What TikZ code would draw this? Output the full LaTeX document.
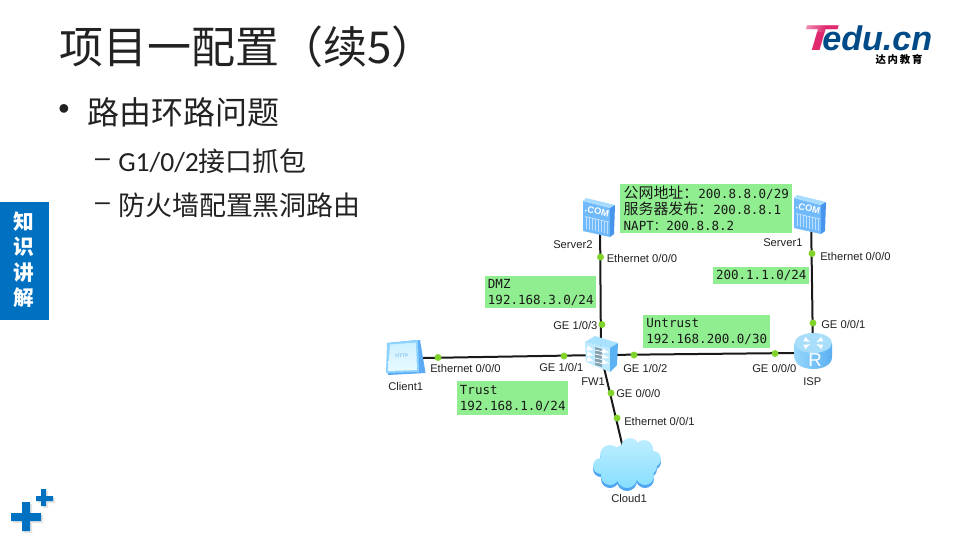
\documentclass[tikz,border=0pt]{standalone}
\usepackage{fontspec}
\usetikzlibrary{fadings}
\setmainfont{Carlito}
\newfontfamily\cjk{Noto Sans CJK SC}
\newfontfamily\lab{Liberation Sans}
\newfontfamily\mono{DejaVu Sans Mono}
\definecolor{deckblue}{HTML}{0070C0}
\definecolor{notegreen}{HTML}{90EE90}
\definecolor{dotgreen}{HTML}{7FD32B}
\definecolor{logoblue}{HTML}{004B87}
\definecolor{logopink}{HTML}{E0286E}
\definecolor{inktext}{HTML}{222222}
\tikzset{
  px/.style={x=0.75pt,y=-0.75pt},
  hub/.style={inner sep=0pt,minimum size=4pt},
  dev/.style={font=\lab\fontsize{8.4}{10}\selectfont,anchor=west,inner sep=0pt,text=inktext},
  port/.style={circle,fill=dotgreen,inner sep=0pt,minimum size=5.2pt},
  wire/.style={line width=1.5pt,black!90},
  note/.style={anchor=north west,fill=notegreen,inner sep=0pt,inner xsep=2pt,align=left,
    font=\mono\fontsize{9.4}{12}\selectfont,text=black!90},
  title/.style={anchor=west,inner sep=0pt,text=inktext,font=\cjk\fontsize{33}{38}\selectfont},
  lvlone/.style={anchor=west,inner sep=0pt,text=inktext,font=\cjk\fontsize{24}{28}\selectfont},
  lvltwo/.style={anchor=west,inner sep=0pt,text=inktext,font=\fontsize{20.7}{24}\selectfont},
  side/.style={inner sep=0pt,text=white,font=\cjk\bfseries\fontsize{15.5}{18}\selectfont},
}
\newcommand{\serverart}[2]{%
\begin{scope}[shift={(#1,#2)}]
  \fill[color={rgb,255:red,112;green,186;blue,252}] (-17,-16) -- (10,-9) -- (10,20) -- (-17,14) -- cycle;
  \fill[color={rgb,255:red,168;green,220;blue,255}] (-17,-16) -- (-14,-19) -- (15,-12) -- (10,-9) -- cycle;
  \fill[color={rgb,255:red,70;green,148;blue,236}] (10,-9) -- (15,-12) -- (14,17) -- (10,20) -- cycle;
  \node[rotate=-13,text=white,inner sep=0pt,font=\lab\bfseries\fontsize{7}{8}\selectfont] at (-3,-5.5) {.COM};
  \draw[white,opacity=.75,line width=.4pt] (-15,-0.5) -- (9,5);
  \foreach \i in {-14,-11,-8,-5,-2,1,4,7} \draw[white,opacity=.55,line width=.5pt] (\i,3+\i*.22) -- (\i,15+\i*.22);
\end{scope}}
\begin{document}
\begin{tikzpicture}[px]
\useasboundingbox (0,0) rectangle (960,540);
\fill[white] (0,0) rectangle (960,540);
% slide text
\node[title] (ttl) at (59,47) {项目一配置（续5）};
\node[anchor=center,inner sep=0pt,text=inktext,font=\lab\fontsize{24}{26}\selectfont] (b1) at (64,112) {•};
\node[lvlone] (t1) at (87,112) {路由环路问题};
\node[anchor=center,inner sep=0pt,text=inktext,font=\lab\fontsize{20}{24}\selectfont] (d2) at (102.5,163) {–};
\node[lvltwo] (t2) at (118,161) {G1/0/2{\cjk\fontsize{20.2}{24}\selectfont 接口抓包}};
\node[anchor=center,inner sep=0pt,text=inktext,font=\lab\fontsize{20}{24}\selectfont] (d3) at (102.5,207) {–};
\node[anchor=west,inner sep=0pt,text=inktext,font=\cjk\fontsize{20.2}{24}\selectfont] (t3) at (118,205) {防火墙配置黑洞路由};
% side tab
\fill[deckblue] (0,202) rectangle (49,320);
\node[side] (s1) at (23.5,222) {知};
\node[side] (s2) at (23.5,247) {识};
\node[side] (s3) at (23.5,273) {讲};
\node[side] (s4) at (23.5,298) {解};
% plus marks
\fill[black!10] (13,515) rectangle (43,523) (24,504) rectangle (32,533);
\fill[black!10] (38,498) rectangle (55,503) (43,491) rectangle (48,508);
\fill[deckblue] (11,513) rectangle (41,521) (22,502) rectangle (30,531);
\fill[deckblue] (36,496) rectangle (53,501) (41,489) rectangle (46,506);
% logo
\node[anchor=base west,inner sep=0pt,text=logopink,xscale=1.5,font=\lab\bfseries\itshape\fontsize{27}{30}\selectfont] (lt) at (802,50) {T};
\fill[white,opacity=.55,path fading=east,fading angle=0] (803,23) rectangle (826,32);
\node[anchor=base west,inner sep=0pt,text=logoblue,font=\lab\bfseries\itshape\fontsize{25.6}{26}\selectfont] (lr) at (822,50) {edu.cn};
\node[anchor=center,inner sep=0pt,text=black,font=\cjk\bfseries\fontsize{7.8}{9}\selectfont] (lc) at (899,59.5) {达\,内\,教\,育};
% notes
\node[note,minimum width=172*0.75pt,minimum height=49*0.75pt] (n1) at (620,184) {%
  \fontsize{9.4}{12}\selectfont{\cjk\fontsize{11.2}{12}\selectfont 公网地址：}200.8.8.0/29\\
  {\cjk\fontsize{11.2}{12}\selectfont 服务器发布：}200.8.8.1\\
  NAPT{\cjk\fontsize{9.4}{12}\selectfont ：}200.8.8.2};
\node[note,minimum width=96*0.75pt,minimum height=17*0.75pt] (n2) at (713,267) {200.1.1.0/24};
\node[note,minimum width=111*0.75pt,minimum height=32*0.75pt] (n3) at (485,276) {DMZ\\192.168.3.0/24};
\node[note,minimum width=127*0.75pt,minimum height=33*0.75pt] (n4) at (643,315) {Untrust\\192.168.200.0/30};
\node[note,minimum width=111*0.75pt,minimum height=34*0.75pt] (n5) at (457,381) {Trust\\192.168.1.0/24};
% hubs
\node[hub] (srv2) at (600,217) {};
\node[hub] (srv1) at (811,214) {};
\node[hub] (fw) at (601,355) {};
\node[hub] (cli) at (405.5,358.3) {};
\node[hub] (isp) at (813,352.8) {};
\node[hub] (cloud) at (627,465) {};
% connectors
\draw[wire] (srv2.center) -- (fw.center);
\draw[wire] (cli.center) -- (fw.center);
\draw[wire] (fw.center) -- (isp.center);
\draw[wire] (srv1.center) -- (isp.center);
\draw[wire] (fw.center) -- (cloud.center);
% ports
\node[port] (p1) at (600.5,257) {};
\node[port] (p2) at (602,324.5) {};
\node[port] (p3) at (438,357.5) {};
\node[port] (p4) at (564,356) {};
\node[port] (p5) at (634,355) {};
\node[port] (p6) at (775,353.5) {};
\node[port] (p7) at (812,253.5) {};
\node[port] (p8) at (813,323) {};
\node[port] (p9) at (611,393) {};
\node[port] (p10) at (617,418) {};
% icons
\serverart{600}{217}
\serverart{811}{214}
% client
\fill[color={rgb,255:red,90;green,170;blue,245}] (387,343) -- (418,340) -- (420,340) -- (425.5,373) -- (388,375) -- cycle;
\fill[color={rgb,255:red,140;green,210;blue,255}] (387,343) -- (418,340) -- (419,372) -- (386,373) -- cycle;
\shade[top color={rgb,255:red,205;green,240;blue,255},bottom color={rgb,255:red,232;green,250;blue,255}] (390,344.5) -- (416,342.5) -- (417,370) -- (388,371) -- cycle;
\node[text={rgb,255:red,140;green,200;blue,240},inner sep=0pt,font=\lab\bfseries\fontsize{3.8}{4}\selectfont] (httpt) at (402,355.5) {HTTP};
% firewall
\fill[color={rgb,255:red,190;green,234;blue,255}] (585,342) -- (610,348) -- (610,372) -- (586,362) -- cycle;
\fill[color={rgb,255:red,168;green,226;blue,255}] (585,342) -- (595,336) -- (618,343) -- (610,348) -- cycle;
\fill[color={rgb,255:red,90;green,178;blue,245}] (610,348) -- (618,343) -- (617,365) -- (610,372) -- cycle;
\fill[color={rgb,255:red,130;green,160;blue,175}] (595,347) -- (602,349) -- (602,367) -- (595,365) -- cycle;
\foreach \y in {350,354,358,362} \draw[white,line width=.6pt] (595,\y) -- (602,\y+1.5);
\foreach \y in {349,354.5,360} {\draw[white,line width=.8pt,-latex] (587,\y-1) -- (594,\y+1);
  \draw[white,line width=.8pt,-latex] (603,\y+2) -- (609,\y+3.5);}
% router
\shade[left color={rgb,255:red,150;green,215;blue,252},right color={rgb,255:red,90;green,175;blue,240}]
  (794.5,343) -- (794.5,357) .. controls (794.5,373) and (832,373) .. (832,357) -- (832,343) -- cycle;
\fill[color={rgb,255:red,168;green,222;blue,250}] (813.3,343) ellipse (18.7 and 10);
\foreach \a/\b in {-9/-3,9/3} {\draw[white,line width=.7pt,-latex] (813.3+\a,339) -- (813.3+\b,342);
  \draw[white,line width=.7pt,-latex] (813.3+\a,347) -- (813.3+\b,344);}
\node[text=white,inner sep=0pt,font=\lab\fontsize{14}{16}\selectfont] (rtxt) at (815,360) {R};
% cloud
\fill[color={rgb,255:red,80;green,165;blue,240}]
  (627,465) circle (18) (612,468) circle (13) (642,468) circle (13) (630,450) circle (9) (644,452) circle (9) (610,458) circle (10) (601,469) circle (8)
  (610,479) circle (9) (627,481) circle (10) (645,479) circle (9) (653,462) circle (8) (648,469) circle (9);
\shade[top color={rgb,255:red,190;green,238;blue,255},bottom color={rgb,255:red,135;green,222;blue,255}]
  (627,462) circle (18) (612,465) circle (13) (642,465) circle (13) (630,447) circle (9) (644,449) circle (9) (610,455) circle (10) (601,466) circle (8)
  (610,476) circle (9) (627,478) circle (10) (645,476) circle (9) (653,459) circle (8) (648,466) circle (9);
% labels
\node[dev] (l1) at (553,245) {Server2};
\node[dev] (l2) at (606.5,258) {Ethernet 0/0/0};
\node[dev] (l3) at (553,325.5) {GE 1/0/3};
\node[dev] (l4) at (430,368) {Ethernet 0/0/0};
\node[dev] (l5) at (539,367) {GE 1/0/1};
\node[dev] (l6) at (623,368) {GE 1/0/2};
\node[dev] (l7) at (581,382) {FW1};
\node[dev] (l8) at (388,386) {Client1};
\node[dev] (l9) at (616,393) {GE 0/0/0};
\node[dev] (l10) at (624,421) {Ethernet 0/0/1};
\node[dev] (l11) at (611,498) {Cloud1};
\node[dev] (l12) at (763,243) {Server1};
\node[dev] (l13) at (820,256) {Ethernet 0/0/0};
\node[dev] (l14) at (821,324) {GE 0/0/1};
\node[dev] (l15) at (752,368) {GE 0/0/0};
\node[dev] (l16) at (803,382) {ISP};
\end{tikzpicture}
\end{document}
